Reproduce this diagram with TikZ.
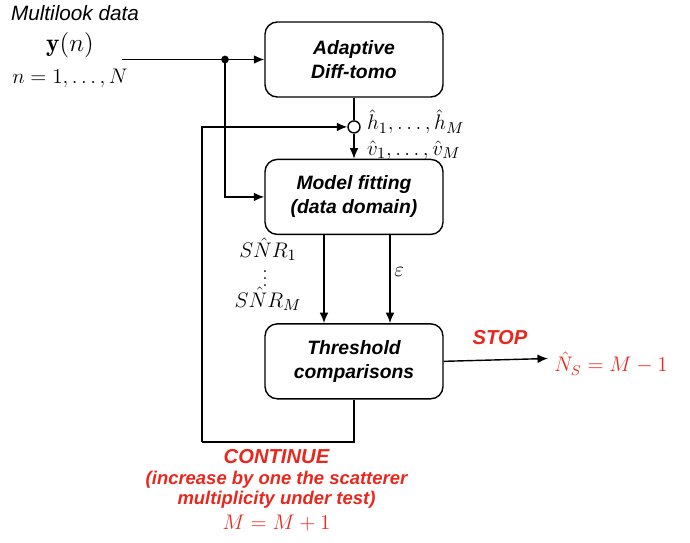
\documentclass[tikz,border=0pt]{standalone}
\usepackage{amsmath,amssymb}
\usepackage{fontspec}
\setsansfont{Liberation Sans}
\usepackage{xcolor}
\usepackage{tikz}
\usetikzlibrary{arrows.meta, positioning, calc}
\definecolor{stopred}{RGB}{232, 40, 30}
\tikzstyle{block} = [rectangle, rounded corners=7pt, minimum width=3.56cm, minimum height=1.5cm, text centered, align=center, draw=black, line width=0.8pt, font=\fontsize{11}{13.6}\selectfont\sffamily\bfseries\itshape]
\tikzstyle{arrow} = [line width=0.8pt,->,>={Latex[length=6pt,width=5pt]}]
\tikzstyle{line} = [line width=0.8pt]
\tikzstyle{sumnode} = [circle, draw=black, line width=0.8pt, minimum size=0.24cm, inner sep=0pt]
\tikzstyle{lab} = [font=\fontsize{12}{14}\selectfont, inner sep=0pt]
\tikzstyle{redlab} = [text=stopred, font=\fontsize{11.5}{14}\selectfont\sffamily\bfseries\itshape, align=center, inner sep=0pt]

\begin{document}
\begin{tikzpicture}
\useasboundingbox (0,0) rectangle (13.8,-10.84);

\node[block] (adapt) at (7.08,-1.19) {Adaptive\\Diff-tomo};
\node[sumnode, below=0.45cm of adapt] (sum) {};
\node[block, below=1.22cm of adapt] (model) {Model fitting\\(data domain)};
\node[block, below=1.76cm of model] (thresh) {Threshold\\comparisons};

% input
\node[font=\fontsize{11.8}{13}\selectfont\sffamily\itshape] (mtitle) at (1.5,-0.26) {Multilook data};
\node[lab, font=\fontsize{14.5}{16}\selectfont] (yn) at (1.4,-0.9) {$\mathbf{y}(n)$};
\node[lab] (nrange) at (1.4,-1.56) {$n=1,\ldots,N$};
\coordinate (in) at (2.44,-1.19);
\coordinate (split) at (4.5,-1.19);
\draw[arrow] (in) -- (adapt.west);
\fill (split) circle (2.2pt);
\draw[arrow] (split) |- (model.west);

% estimates
\draw[line] (adapt.south) -- (sum.north);
\draw[arrow] (sum.south) -- (model.north);
\node[lab, font=\fontsize{13}{15}\selectfont, anchor=west] (hlab) at ($(sum.east)+(0.12,0.1)$) {$\hat{h}_1,\ldots,\hat{h}_M$};
\node[lab, font=\fontsize{13}{15}\selectfont, anchor=west] (vlab) at ($(sum.east)+(0.12,-0.46)$) {$\hat{v}_1,\ldots,\hat{v}_M$};

% model fitting to threshold
\draw[arrow] ([xshift=-0.6cm]model.south) -- ([xshift=-0.6cm]thresh.north);
\draw[arrow] ([xshift=0.72cm]model.south) -- ([xshift=0.72cm]thresh.north);
\node[lab, font=\fontsize{12.5}{14}\selectfont] (snr1) at (5.36,-4.98) {$S\hat{N}R_1$};
\node[lab, font=\fontsize{10}{12}\selectfont] (snrdots) at (5.3,-5.47) {$\vdots$};
\node[lab, font=\fontsize{12.5}{14}\selectfont] (snrm) at (5.36,-5.98) {$S\hat{N}R_M$};
\node[lab, font=\fontsize{13}{14}\selectfont, anchor=west] (eps) at (7.88,-5.44) {$\varepsilon$};

% stop
\coordinate (out) at (10.96,-7.17);
\draw[arrow] (thresh.east) -- (out);
\node[redlab] (stop) at (10.0,-6.76) {STOP};
\node[lab, anchor=west, text=stopred] (nest) at ($(out)+(0.12,-0.1)$) {$\hat{N}_S=M-1$};

% continue
\coordinate (fb) at (4.04,-8.84);
\draw[line] (thresh.south) |- (fb);
\draw[arrow] (fb) |- (sum.west);
\node[redlab] (cont) at (5.53,-9.14) {CONTINUE};
\node[redlab, font=\fontsize{10.5}{11.5}\selectfont\sffamily\bfseries\itshape] (incr) at (5.53,-9.8) {(increase by one the scatterer\\multiplicity under test)};
\node[lab, text=stopred] (mupd) at (5.53,-10.46) {$M=M+1$};

\end{tikzpicture}
\end{document}
